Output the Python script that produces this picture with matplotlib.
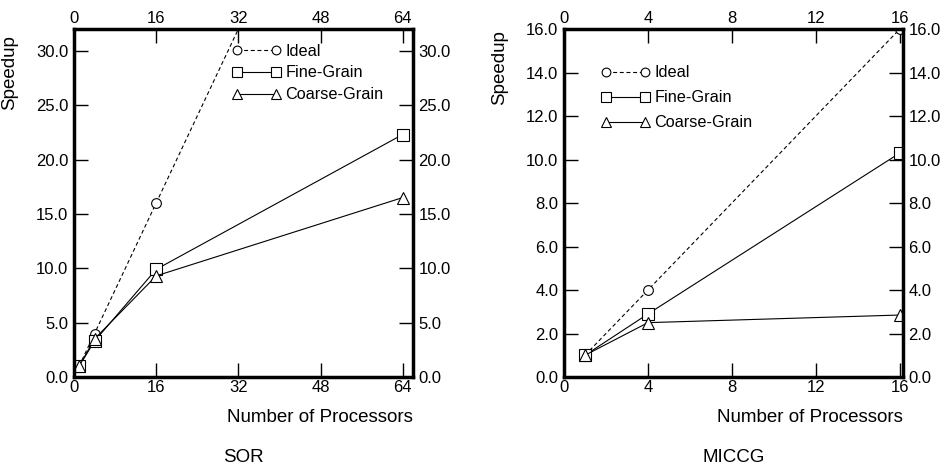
import numpy as np
import matplotlib
matplotlib.use("Agg")
import matplotlib.pyplot as plt

plt.rcParams['font.family'] = ['Liberation Sans', 'DejaVu Sans']
plt.rcParams['font.size'] = 12

# SOR data
sor_procs = [1, 4, 16, 64]
sor_ideal = [1, 4, 16, 64]
sor_fine = [1.0, 3.3, 9.9, 22.3]
sor_coarse = [1.0, 3.5, 9.3, 16.5]

# MICCG data
miccg_procs = [1, 4, 16]
miccg_ideal = [1, 4, 16]
miccg_fine = [1.0, 2.9, 10.3]
miccg_coarse = [1.0, 2.5, 2.85]

sor_xticks = [0, 16, 32, 48, 64]
sor_yticks = [0, 5, 10, 15, 20, 25, 30]
miccg_xticks = [0, 4, 8, 12, 16]
miccg_yticks = [0, 2, 4, 6, 8, 10, 12, 14, 16]

fig = plt.figure(figsize=(9.45, 4.65), dpi=100)
ax1 = fig.add_axes([0.0783, 0.1892, 0.3587, 0.7484])
ax2 = fig.add_axes([0.5968, 0.1892, 0.3587, 0.7484])


def draw(ax, x, ideal, fine, coarse, xticks, yticks, xlim, ylim, leg_xy, lspace, ylab_y):
    ax.plot(x, ideal, color='k', lw=0.8, ls=(0, (3.5, 2.5)), marker='o', ms=7,
            mfc='white', mec='k', mew=0.8, label='Ideal')
    ax.plot(x, fine, color='k', lw=0.8, marker='s', ms=8,
            mfc='white', mec='k', mew=0.8, label='Fine-Grain')
    ax.plot(x, coarse, color='k', lw=0.8, marker='^', ms=8,
            mfc='white', mec='k', mew=0.8, label='Coarse-Grain')
    ax.set_xlim(*xlim)
    ax.set_ylim(*ylim)
    ax.set_xticks(xticks)
    ax.set_yticks(yticks)
    ax.set_yticklabels(['%.1f' % v for v in yticks])
    ax.tick_params(axis='both', direction='in', length=10, width=1.0,
                   top=True, right=True, labeltop=True, labelright=True)
    ax.tick_params(axis='y', pad=4)
    ax.tick_params(axis='x', pad=2)
    for s in ax.spines.values():
        s.set_linewidth(2.5)
    ax.set_xlabel('Number of Processors', loc='right', labelpad=10, fontsize=13.5)
    ax.set_ylabel('Speedup', fontsize=13.5)
    ax.yaxis.set_label_coords(-0.165, ylab_y)
    ax.legend(loc='upper left', bbox_to_anchor=leg_xy, frameon=False,
              numpoints=2, handlelength=3.0, handletextpad=0.3, markerscale=0.9,
              labelspacing=lspace, borderpad=0, borderaxespad=0, fontsize=11.7)


draw(ax1, sor_procs, sor_ideal, sor_fine, sor_coarse, sor_xticks, sor_yticks,
     (0, 66), (0, 32), (0.466, 0.958), 0.42, 0.876)
draw(ax2, miccg_procs, miccg_ideal, miccg_fine, miccg_coarse, miccg_xticks,
     miccg_yticks, (0, 16.15), (0, 16), (0.109, 0.896), 0.62, 0.889)

fig.text(0.2577, 0.017, 'SOR', ha='center', va='center', fontsize=13.5)
fig.text(0.7762, 0.017, 'MICCG', ha='center', va='center', fontsize=13.5)

fig.savefig('out.png', dpi=100)
